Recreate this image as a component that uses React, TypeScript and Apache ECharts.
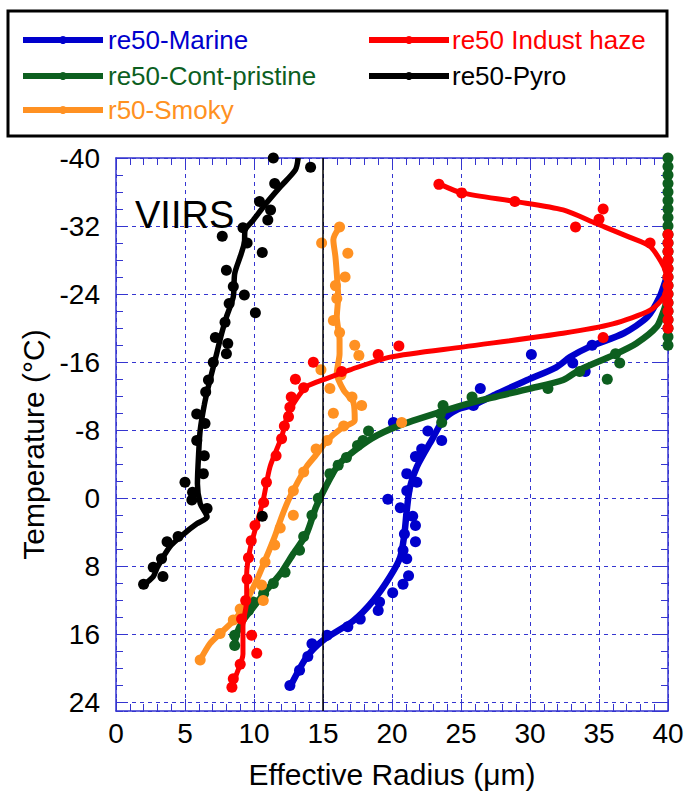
import React, { useEffect, useRef } from "react";
import * as echarts from "echarts";

// ---- data: [effective radius (µm), temperature (°C)] ----
const marineLine = [[40,-26.6],[39.9,-26],[39.4,-23.7],[38.5,-21.3],[36.8,-19.4],[34.3,-17.8],[32.9,-16.6],[31.9,-15.4],[29.8,-13.9],[27.6,-12.3],[26.1,-11.1],[24.7,-10.4],[23.7,-9.2],[23.0,-7.2],[21.8,-3.7],[21.3,-1.3],[21.07,1.4],[20.9,4.2],[20.6,6.9],[19.86,9.2],[18.65,12],[17.2,14.4],[15.0,16.7],[13.8,18.7],[12.6,22.2]];
const marinePts = [[30.1,-16.9],[33.1,-15.9],[34.5,-18],[34.0,-14.9],[26.4,-12.9],[25.9,-10.9],[20.1,-8.9],[22.6,-7.9],[23.6,-6.8],[22.15,-5.8],[21.7,-4.9],[21.07,-2.9],[21.8,-1.9],[21.07,-0.9],[19.7,0.1],[20.6,1.1],[21.5,2.1],[21.7,3.2],[20.9,4.2],[21.7,5.1],[20.8,6.1],[21.07,7.1],[21.2,9.1],[20.8,10.1],[20.05,11.1],[19.1,12.2],[19.0,13.2],[17.7,14.2],[16.8,15.1],[15.3,16.1],[14.2,17.1],[13.9,18.6],[13.3,20.2],[12.6,22]];

const prisLine = [[40,-23.6],[39.7,-22.1],[39.2,-20.2],[37.7,-18.2],[36.0,-16.8],[33.6,-15.1],[32.4,-13.9],[30.0,-12.9],[26.4,-11.5],[24.0,-10.4],[20.6,-8.6],[18.5,-7.0],[16.2,-4.1],[15.3,-1.7],[14.5,1],[13.8,4.2],[12.85,6.5],[11.9,8.9],[10.9,10.8],[9.95,12.8],[9.2,14.4],[8.75,15.9],[8.6,17.1]];
const prisPts = [[40,-40],[40,-39],[40,-38],[40,-37],[40,-36],[40,-35],[40,-34],[40,-33],[40,-32],[40,-31],[40,-30],[40,-29],[40,-28],[40,-27],[40,-26],[40,-25],[40,-24],[40,-23],[40,-22],[40,-21],[40,-20],[40,-19],[40,-18],[36.5,-15.9],[36.2,-17],[35.6,-14],[33.6,-14.9],[31.3,-12.9],[25.8,-11.9],[23.7,-10.9],[23.5,-9.9],[23.6,-8.9],[18.3,-7.9],[17.9,-6.8],[17.5,-6.2],[16.7,-4.8],[16.1,-3.9],[15.5,-2.9],[14.66,0],[14.2,2],[13.6,4.5],[13.3,6.1],[12.25,8.7],[11.4,10],[10.7,11.2],[9.95,12.2],[9.6,13.2],[8.6,16.1],[8.6,17.3]];

const smokyLine = [[16.2,-31.9],[15.75,-30.4],[15.9,-28.4],[16.0,-26.4],[16.1,-23.7],[16.0,-21.3],[16.2,-18.6],[16.2,-17],[16.0,-14.7],[16.5,-12.7],[17.2,-11.3],[17.3,-9.2],[16.3,-8.2],[15.3,-6.8],[14.5,-5.1],[13.8,-3.7],[13.1,-1.7],[12.5,0.2],[12.0,2.2],[11.5,4.5],[10.8,7.3],[10.2,9.6],[9.47,12],[8.75,14],[7.54,15.9],[6.8,17.1],[6.1,19]];
const smokyPts = [[16.2,-31.9],[14.9,-30],[16.8,-28.8],[16.6,-26],[15.9,-25],[16.0,-23.5],[15.75,-20.9],[16.2,-19.5],[17.3,-18],[17.6,-16.8],[14.85,-15.1],[16.3,-14.5],[15.5,-12.9],[17.1,-11.9],[17.8,-10.9],[15.75,-10],[20.7,-8.9],[16.5,-8.5],[15.3,-6.8],[14.5,-5.8],[13.6,-3.1],[12.85,-0.9],[12.85,2],[11.9,3.5],[11.5,5.5],[10.8,7.5],[10.55,10.2],[10.67,12],[9.0,13],[8.5,14.3],[7.54,15.9],[6.1,19]];

const hazeLine = [[23.5,-36.9],[25.05,-35.9],[28.9,-34.9],[32.4,-33.9],[34.8,-32.3],[37.2,-30.7],[38.7,-29.6],[39.7,-27.2],[39.9,-25.6],[39.7,-23.7],[38.7,-22.1],[36.0,-20.5],[32.4,-19.4],[25.2,-17.8],[19.86,-16.6],[16.96,-15.1],[15.3,-14.1],[13.8,-13.1],[12.85,-11.1],[12.4,-9.6],[12.0,-7.2],[11.16,-3.7],[10.67,0.2],[10.2,3],[9.7,6.1],[9.47,8.9],[9.47,12],[9.2,15.1],[9.2,18.3],[8.75,20.6],[8.4,22.2]];
const hazePts = [[23.4,-36.9],[25.05,-35.9],[28.9,-34.9],[35.3,-34],[35.0,-32.8],[33.3,-31.9],[38.7,-30],[40,-31],[40,-30],[40,-29],[40,-28],[40,-27],[40,-26],[40,-25],[40,-24],[40,-23],[40,-22],[40,-21],[40,-20],[35.3,-18.9],[20.5,-17.9],[19.0,-16.9],[16.35,-14.9],[14.3,-16.0],[13.0,-14],[13.6,-13],[12.7,-11.9],[12.6,-10.7],[12.5,-9.6],[12.2,-8.5],[12.0,-7],[11.6,-5],[10.9,-1.9],[10.7,0.5],[10.07,3.2],[9.8,5],[9.6,7],[9.5,9.5],[9.4,12],[9.1,14.2],[9.83,16.1],[10.2,18.2],[9.0,19.5],[8.5,21.2],[8.4,22.2]];

const pyroLine = [[13.2,-40],[13.0,-38.6],[11.9,-36.6],[10.9,-34.7],[9.95,-32.7],[9.35,-31.5],[9.3,-30],[9.0,-28.4],[8.6,-26.4],[8.5,-23.7],[8.0,-21.3],[7.66,-19.4],[7.17,-16.2],[6.69,-13.1],[6.4,-11],[6.1,-8],[6.0,-5.6],[5.9,-1.7],[6.1,0.6],[6.6,2.2],[5.85,3],[4.9,4.2],[3.9,5.7],[3.0,8.1],[2.7,9.2],[2.0,10.2]];
const pyroPts = [[11.4,-40],[14.1,-38.9],[11.5,-37],[10.4,-34.9],[11.2,-33.9],[11.0,-32.7],[9.2,-31.8],[7.7,-30.8],[9.5,-30],[10.6,-28.9],[8.0,-26.8],[8.5,-24.9],[9.3,-23.9],[8.2,-22.9],[10.1,-21.8],[7.9,-20.7],[7.2,-18.9],[8.1,-18.2],[8.0,-17],[7.05,-16],[6.7,-13.9],[6.5,-12.5],[5.85,-9.9],[6.45,-8.8],[5.85,-6.8],[6.4,-5],[6.33,-2.9],[5.0,-1.9],[5.55,-0.7],[5.5,0.2],[6.6,1.2],[10.6,2.1],[4.5,4.5],[3.7,5.1],[3.3,7.1],[2.7,8.1],[3.4,9.2],[2.0,10.1]];

const seriesNames = ["re50-Marine", "re50-Cont-pristine", "r50-Smoky", "re50 Indust haze", "re50-Pyro"];
const seriesColors = ["#0000CC", "#0D5F1F", "#FF9122", "#FF0000", "#000000"];
const lineWidths = [6.5, 6.5, 6, 5, 5.5];
const lineData = [marineLine, prisLine, smokyLine, hazeLine, pyroLine];
const pointData = [marinePts, prisPts, smokyPts, hazePts, pyroPts];

const xTicks = { min: 0, max: 40, interval: 5 };
const yTicks = { min: -40, max: 25, interval: 8 };

const FONT = "Liberation Sans, Arial, Helvetica, sans-serif";
const AX = "#3535D0";

export default function App() {
  const ref = useRef<HTMLDivElement>(null);
  useEffect(() => {
    document.body.style.margin = "0";
    const chart = echarts.init(ref.current!, null, { renderer: "svg" });

    const series: any[] = [];
    lineData.forEach((d, i) => {
      series.push({
        name: seriesNames[i],
        type: "line",
        data: d,
        smooth: 0.25,
        symbol: "none",
        lineStyle: { color: seriesColors[i], width: lineWidths[i] },
        itemStyle: { color: seriesColors[i] },
        z: 2 + i,
        markLine: i === 0 ? {
          silent: true,
          symbol: ["none", "none"],
          label: { show: false },
          lineStyle: { color: "#000", width: 1.5, type: "solid" },
          data: [{ xAxis: 15 }],
        } : undefined,
      });
      series.push({
        name: seriesNames[i],
        type: "scatter",
        data: pointData[i],
        symbol: "circle",
        symbolSize: 11,
        clip: false,
        itemStyle: { color: seriesColors[i], opacity: 1 },
        z: 2 + i,
      });
    });

    // legend (drawn in graphic)
    const legendItems: any[] = [];
    const cols = [{ lx: 23, tx: 108 }, { lx: 369, tx: 452 }];
    const pos = [[0, 0], [0, 1], [0, 2], [1, 0], [1, 1]];
    const rows = [40, 76, 110];
    seriesNames.forEach((n, i) => {
      const c = cols[pos[i][0]];
      const y = rows[pos[i][1]];
      legendItems.push({ type: "line", z: 20, shape: { x1: c.lx, y1: y, x2: c.lx + 80, y2: y }, style: { stroke: seriesColors[i], lineWidth: 6 } });
      legendItems.push({ type: "circle", z: 21, shape: { cx: c.lx + 40, cy: y, r: 4 }, style: { fill: seriesColors[i] } });
      legendItems.push({ type: "text", z: 21, x: c.tx, y: y, style: { text: n, fill: seriesColors[i], font: `26px ${FONT}`, textVerticalAlign: "middle" } });
    });

    const tickCommon = (len: number, show = true) => ({ show, inside: true, length: len, lineStyle: { color: AX, width: 1 } });
    const axLine = { show: true, onZero: false, lineStyle: { color: AX, width: 1.5 } };

    chart.setOption({
      animation: false,
      backgroundColor: "#fff",
      grid: { left: 116, right: 24, top: 158, bottom: 82, containLabel: false },
      xAxis: [
        {
          type: "value", ...xTicks, position: "bottom",
          axisLine: axLine,
          axisTick: tickCommon(12),
          minorTick: { show: true, splitNumber: 5, length: 7, lineStyle: { color: AX, width: 1 } },
          splitLine: { show: true, lineStyle: { color: AX, width: 1, type: [4, 4] } },
          axisLabel: { color: "#000", fontSize: 28, fontFamily: FONT, margin: 8 },
          name: "Effective Radius (\u03bcm)", nameLocation: "middle", nameGap: 48,
          nameTextStyle: { color: "#000", fontSize: 30, fontFamily: FONT },
        },
        {
          type: "value", ...xTicks, position: "top",
          axisLine: axLine,
          axisTick: tickCommon(12),
          minorTick: { show: true, splitNumber: 5, length: 7, lineStyle: { color: AX, width: 1 } },
          splitLine: { show: false },
          axisLabel: { show: false },
        },
      ],
      yAxis: [
        {
          type: "value", ...yTicks, inverse: true, position: "left",
          axisLine: axLine,
          axisTick: tickCommon(12),
          splitLine: { show: true, lineStyle: { color: AX, width: 1, type: [4, 4] } },
          axisLabel: { color: "#000", fontSize: 28, fontFamily: FONT, margin: 16, showMaxLabel: false },
          name: "Temperature (\u00b0C)", nameLocation: "middle", nameGap: 66,
          nameTextStyle: { color: "#000", fontSize: 30, fontFamily: FONT, padding: [0, 20, 0, 0] },
        },
        {
          type: "value", min: -40, max: 25, interval: 2, inverse: true, position: "left",
          axisLine: { show: false, onZero: false }, axisTick: tickCommon(7), splitLine: { show: false }, axisLabel: { show: false },
        },
        {
          type: "value", ...yTicks, inverse: true, position: "right",
          axisLine: axLine,
          axisTick: tickCommon(12), splitLine: { show: false }, axisLabel: { show: false },
        },
        {
          type: "value", min: -40, max: 25, interval: 2, inverse: true, position: "right",
          axisLine: { show: false, onZero: false }, axisTick: tickCommon(7), splitLine: { show: false }, axisLabel: { show: false },
        },
      ],
      series,
      graphic: [
        { type: "rect", shape: { x: 8, y: 11, width: 659, height: 125 }, style: { fill: "#fff", stroke: "#000", lineWidth: 3 }, z: 10 },
        { type: "group", children: legendItems, z: 11 },
        { type: "text", x: 135, y: 215, style: { text: "VIIRS", fill: "#000", font: `38px ${FONT}`, textVerticalAlign: "middle" }, z: 11 },
      ],
    });
    return () => chart.dispose();
  }, []);
  return <div ref={ref} style={{ position: "absolute", left: 0, top: 0, width: 692, height: 794 }} />;
}
